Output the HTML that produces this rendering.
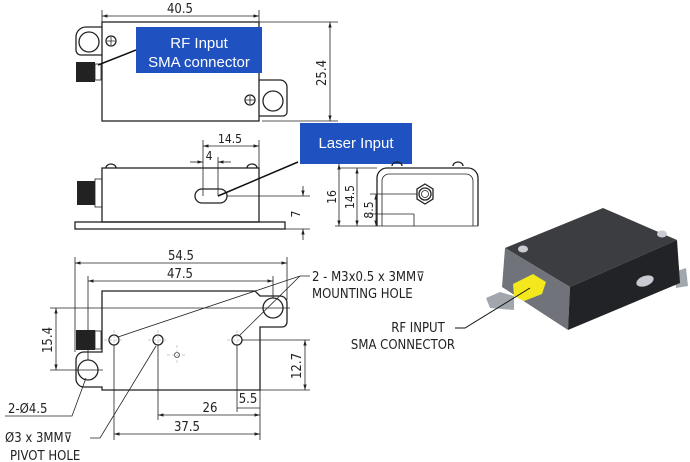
<!DOCTYPE html>
<html><head><meta charset="utf-8"><style>
body{margin:0;background:#fff}
svg{display:block}
text{font-family:"DejaVu Sans Condensed","Liberation Sans",sans-serif;fill:#222}
.l{stroke:#222;stroke-width:1.3;fill:none}
.t{stroke:#222;stroke-width:0.8;fill:none}
.c{stroke:#bbb;stroke-width:0.7;fill:none;stroke-dasharray:3 2}
</style></head><body>
<svg width="690" height="462" viewBox="0 0 690 462" xmlns="http://www.w3.org/2000/svg">
<defs>
<marker id="a" viewBox="0 0 10 10" refX="10" refY="5" markerWidth="7" markerHeight="7" orient="auto-start-reverse"><path d="M0,2 L10,5 L0,8z" fill="#222"/></marker>
</defs>
<!-- TOP VIEW -->
<path class="l" d="M102,27 H86 a10,10 0 0 0 -10,10 V50 a5,5 0 0 0 5,5 H102"/>
<circle class="l" cx="89" cy="42" r="10"/>
<circle class="l" cx="111" cy="41" r="5"/><path class="t" d="M107,41h8M111,37v8"/>
<rect class="l" x="102" y="22" width="157" height="99"/>
<path class="l" d="M259,80 H280 a7,7 0 0 1 7,7 V112 a4,4 0 0 1 -4,4 H259"/>
<circle class="l" cx="273" cy="101" r="10"/>
<circle class="l" cx="250" cy="100" r="5"/><path class="t" d="M246,100h8M250,96v8"/>
<rect x="76" y="62" width="19" height="20" fill="#222"/><rect class="t" x="95" y="64" width="6" height="16"/>
<path class="t" d="M102,10V22M259,10V22M259,22H338M262,121H338"/>
<line class="t" x1="102" y1="16" x2="259" y2="16" marker-start="url(#a)" marker-end="url(#a)"/>
<text x="180" y="13" font-size="13" text-anchor="middle">40.5</text>
<line class="t" x1="330" y1="22" x2="330" y2="121" marker-start="url(#a)" marker-end="url(#a)"/>
<text transform="translate(326,73) rotate(-90)" font-size="13" text-anchor="middle">25.4</text>
<line x1="136" y1="50" x2="98" y2="65" stroke="#111" stroke-width="1.5"/>
<rect x="136" y="27" width="126" height="46" fill="#1f52c0"/>
<text x="199" y="48" font-size="15" text-anchor="middle" style="fill:#fff;font-family:'Liberation Sans',sans-serif">RF Input</text>
<text x="199" y="67" font-size="15" text-anchor="middle" style="fill:#fff;font-family:'Liberation Sans',sans-serif">SMA connector</text>
<!-- SIDE VIEW -->
<path class="l" d="M106,168a5,4 0 0 1 10,0M247,168a5,4 0 0 1 10,0"/>
<rect class="l" x="102" y="168" width="157" height="54"/>
<rect class="l" x="75" y="222" width="210" height="7"/>
<rect x="77" y="181" width="18" height="24" fill="#222"/><rect class="t" x="95" y="179" width="7" height="28"/>
<rect class="l" x="195" y="189" width="32" height="14" rx="7"/>
<path class="t" d="M203,140V196M218,157V196M259,140V168M227,196H310M285,229H310"/>
<line class="t" x1="203" y1="146" x2="259" y2="146" marker-start="url(#a)" marker-end="url(#a)"/>
<text x="230" y="143" font-size="12" text-anchor="middle">14.5</text>
<line class="t" x1="190" y1="162" x2="203" y2="162" marker-end="url(#a)"/><line class="t" x1="231" y1="162" x2="218" y2="162" marker-end="url(#a)"/>
<text x="209" y="160" font-size="12" text-anchor="middle">4</text>
<line class="t" x1="303" y1="186" x2="303" y2="196" marker-end="url(#a)"/><line class="t" x1="303" y1="240" x2="303" y2="229" marker-end="url(#a)"/>
<text transform="translate(300,214) rotate(-90)" font-size="12" text-anchor="middle">7</text>
<line x1="218" y1="196" x2="298" y2="162" stroke="#111" stroke-width="1.5"/>
<rect x="300" y="123" width="112" height="41" fill="#1f52c0"/>
<text x="356" y="148" font-size="15" text-anchor="middle" style="fill:#fff;font-family:'Liberation Sans',sans-serif">Laser Input</text>
<!-- END VIEW -->
<path class="l" d="M392,166a5,4 0 0 1 10,0M453,166a5,4 0 0 1 10,0"/>
<path class="l" d="M377,226V178a10,10 0 0 1 10,-10H468a10,10 0 0 1 10,10V226"/>
<path class="t" d="M382,226V181a7,7 0 0 1 7,-7H466a7,7 0 0 1 7,7V226M377,226H478"/>
<polygon class="l" points="425,184 433,189 433,199 425,204 417,199 417,189"/>
<circle class="l" cx="425" cy="194" r="6"/><circle class="t" cx="425" cy="194" r="3.5"/>
<path class="t" d="M335,226H377M339,168H377M370,194H417M370,214H414M414,214V226"/>
<line class="t" x1="339" y1="164" x2="339" y2="226" marker-start="url(#a)" marker-end="url(#a)"/>
<line class="t" x1="357" y1="168" x2="357" y2="226" marker-start="url(#a)" marker-end="url(#a)"/>
<line class="t" x1="376" y1="194" x2="376" y2="226" marker-start="url(#a)" marker-end="url(#a)"/>
<text transform="translate(336,197) rotate(-90)" font-size="12" text-anchor="middle">16</text>
<text transform="translate(354,197) rotate(-90)" font-size="12" text-anchor="middle">14.5</text>
<text transform="translate(373,210) rotate(-90)" font-size="12" text-anchor="middle">8.5</text>
<!-- BOTTOM VIEW -->
<path class="l" d="M102,352 V291 H255 l5,5 H280 a7,7 0 0 1 7,7 V322 a5,5 0 0 1 -5,5 H260 V390 H102 v-3 H84 a8,8 0 0 1 -8,-8 V360 a8,8 0 0 1 8,-8z"/>
<rect x="76" y="330" width="19" height="20" fill="#222"/><rect class="t" x="95" y="331" width="6" height="18"/>
<circle class="l" cx="114" cy="340" r="5"/><circle class="l" cx="158" cy="340" r="5"/><circle class="l" cx="237" cy="340" r="5"/>
<circle class="l" cx="88" cy="370" r="10"/><circle class="l" cx="273" cy="308" r="10"/>
<circle class="t" cx="177" cy="355" r="2.5"/>
<path class="c" d="M104,340H124M114,330V350M148,340H168M158,330V350M227,340H247M237,330V350M167,355H187M177,345V365"/>
<path class="t" d="M75,257V352M287,257V300M88,276V360M273,276V298M50,308H290M50,370H103M242,340H310M260,390H310M114,345V440M158,345V420M237,345V412M260,390V440"/>
<line class="t" x1="75" y1="263" x2="287" y2="263" marker-start="url(#a)" marker-end="url(#a)"/>
<text x="181" y="260" font-size="13" text-anchor="middle">54.5</text>
<line class="t" x1="88" y1="281" x2="273" y2="281" marker-start="url(#a)" marker-end="url(#a)"/>
<text x="180" y="278" font-size="13" text-anchor="middle">47.5</text>
<line class="t" x1="56" y1="308" x2="56" y2="370" marker-start="url(#a)" marker-end="url(#a)"/>
<text transform="translate(52,340) rotate(-90)" font-size="13" text-anchor="middle">15.4</text>
<line class="t" x1="305" y1="340" x2="305" y2="390" marker-start="url(#a)" marker-end="url(#a)"/>
<text transform="translate(301,366) rotate(-90)" font-size="13" text-anchor="middle">12.7</text>
<line class="t" x1="158" y1="415" x2="260" y2="415" marker-start="url(#a)" marker-end="url(#a)"/>
<text x="210" y="412" font-size="13" text-anchor="middle">26</text>
<line class="t" x1="114" y1="434" x2="260" y2="434" marker-start="url(#a)" marker-end="url(#a)"/>
<text x="187" y="431" font-size="13" text-anchor="middle">37.5</text>
<line class="t" x1="237" y1="408" x2="260" y2="408"/>
<text x="248" y="403" font-size="13" text-anchor="middle">5.5</text>
<path class="t" d="M5,416H72L86,378"/>
<text x="8" y="413" font-size="13">2-Ø4.5</text>
<path class="t" d="M90,438H100L156,346"/>
<text x="5" y="442" font-size="13">Ø3 x 3MM⊽</text>
<text x="10" y="460" font-size="13">PIVOT HOLE</text>
<path class="t" d="M310,276H300L118,337M300,276L240,335"/>
<text x="312" y="281" font-size="13">2 - M3x0.5 x 3MM⊽</text>
<text x="312" y="298" font-size="13">MOUNTING HOLE</text>
<!-- 3D -->
<polygon points="486,298 500,292 514,296 514,310 490,308" fill="#a2a7ae"/>
<polygon points="674,272 686,268 688,286 676,288" fill="#a2a7ae"/>
<polygon points="505,248 603,208 677,240 570,287" fill="#3c3d40"/>
<polygon points="505,248 570,287 568,330 502,287" fill="#70747a"/>
<polygon points="570,287 677,240 680,283 568,330" fill="#222326"/>
<ellipse cx="523" cy="249" rx="5" ry="3.5" fill="#c8ccd2"/><ellipse cx="662" cy="234" rx="5" ry="3.5" fill="#c8ccd2"/>
<ellipse cx="645" cy="281" rx="9" ry="5" fill="#c8ccd2" transform="rotate(-20 645 281)"/>
<polygon points="513,284 533,274 546,282 542,294 524,301 514,296" fill="#f2e81c"/>
<text x="418" y="332" font-size="13" text-anchor="middle">RF INPUT</text>
<text x="403" y="349" font-size="13" text-anchor="middle">SMA CONNECTOR</text>
<path d="M455,328H465L530,288" stroke="#111" stroke-width="1" fill="none"/>
</svg>
</body></html>
